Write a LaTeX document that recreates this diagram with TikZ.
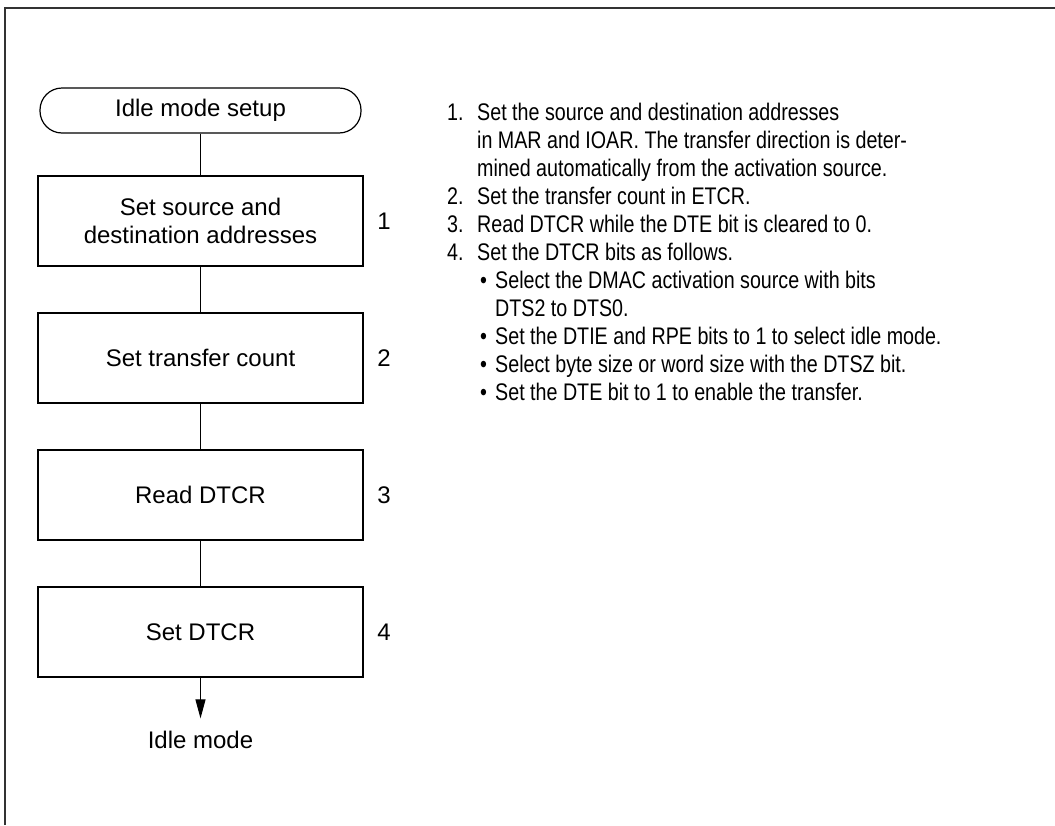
\documentclass[tikz,border=0pt]{standalone}
\usepackage{fontspec}
\setmainfont{Liberation Sans}
\newfontfamily\narrowfont[FakeStretch=0.82]{Liberation Sans}
\usetikzlibrary{arrows.meta}
\tikzset{
  txt/.style={font=\fontsize{24}{28}\selectfont},
  stepbox/.style={draw, line width=1.2pt, minimum width=325pt, minimum height=90pt, align=center, inner sep=0pt, txt},
  termbox/.style={draw, line width=1.2pt, rounded corners=22pt, minimum width=321pt, minimum height=45pt, inner sep=0pt, txt},
  numlbl/.style={inner sep=0pt, txt},
  conn/.style={line width=1pt},
  frameline/.style={line width=2pt, draw=black!80},
}
\begin{document}
\begin{tikzpicture}[x=1pt,y=-1pt]
\useasboundingbox (0,0) rectangle (1055,825);
\draw[frameline] (5,825) -- (5,7.5) -- (1055,7.5);

\node[termbox] (start) at (200.5,110.5) {Idle mode setup};
\node[stepbox] (b1) at (200.5,221) {Set source and\\destination addresses};
\node[stepbox] (b2) at (200.5,358) {Set transfer count};
\node[stepbox] (b3) at (200.5,495) {Read DTCR};
\node[stepbox] (b4) at (200.5,632) {Set DTCR};
\node[inner sep=0pt, anchor=base, txt] (idle) at (200.5,748) {Idle mode};

\node[numlbl] (n1) at (384,221) {1};
\node[numlbl] (n2) at (384,358) {2};
\node[numlbl] (n3) at (384,495) {3};
\node[numlbl] (n4) at (384,632) {4};

\draw[conn] (start) -- (b1);
\draw[conn] (b1) -- (b2);
\draw[conn] (b2) -- (b3);
\draw[conn] (b3) -- (b4);
\draw[conn, -{Triangle[length=19pt,width=10pt]}, shorten >=12pt] (b4) -- (idle);

\node[anchor=base west, inner sep=0pt, font=\narrowfont\fontsize{24}{28}\selectfont] (notes) at (447,120.5) {%
\renewcommand{\arraystretch}{1}%
\begin{tabular}[t]{@{}p{30pt}@{}l@{}}
1. & Set the source and destination addresses\\
   & in MAR and IOAR. The transfer direction is deter-\\
   & mined automatically from the activation source.\\
2. & Set the transfer count in ETCR.\\
3. & Read DTCR while the DTE bit is cleared to 0.\\
4. & Set the DTCR bits as follows.\\
   & \hspace*{3pt}\makebox[15pt][l]{•}Select the DMAC activation source with bits\\
   & \hspace*{18pt}DTS2 to DTS0.\\
   & \hspace*{3pt}\makebox[15pt][l]{•}Set the DTIE and RPE bits to 1 to select idle mode.\\
   & \hspace*{3pt}\makebox[15pt][l]{•}Select byte size or word size with the DTSZ bit.\\
   & \hspace*{3pt}\makebox[15pt][l]{•}Set the DTE bit to 1 to enable the transfer.
\end{tabular}};
\end{tikzpicture}
\end{document}
